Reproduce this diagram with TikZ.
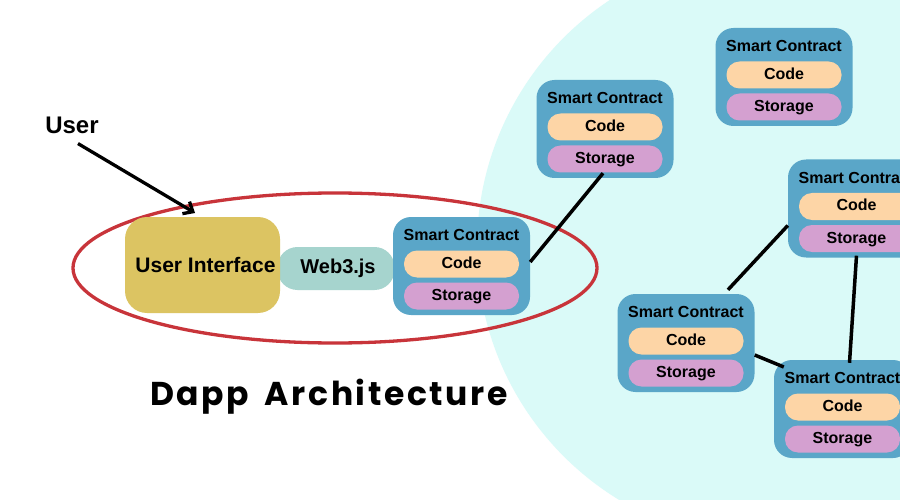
\documentclass[tikz,border=0pt]{standalone}
\usepackage{fontspec}
\setmainfont{Liberation Sans}
\newfontfamily\titlefont{Poppins}[LetterSpace=8]
\usetikzlibrary{calc,arrows.meta}
\definecolor{seacolor}{RGB}{218,250,248}
\definecolor{scblue}{RGB}{90,166,200}
\definecolor{codecolor}{RGB}{253,213,166}
\definecolor{storecolor}{RGB}{212,160,208}
\definecolor{uicolor}{RGB}{220,196,98}
\definecolor{webcolor}{RGB}{166,212,206}
\definecolor{ringcolor}{RGB}{200,52,58}
\newcommand{\fsize}[1]{\fontsize{#1}{#1}\selectfont}
\tikzset{
  scbox/.style={fill=scblue, rounded corners=18pt, minimum width=137pt, minimum height=98pt, inner sep=0pt},
  sctitle/.style={font=\bfseries\fsize{16}, inner sep=0pt},
  pill/.style={rounded corners=13pt, minimum width=115pt, minimum height=27pt, inner sep=0pt,
    text height=12pt, text depth=3pt, font=\bfseries\fsize{16}},
  codepill/.style={pill, fill=codecolor},
  storepill/.style={pill, fill=storecolor},
  link/.style={line width=3.5pt}
}
\newcommand{\smartContract}[2]
{   \node[scbox] (#1) at (#2) {};
    \node[sctitle] (#1t) at ($(#1)+(0,-31)$) {Smart Contract};
    \node[codepill] (#1c) at ($(#1)+(0,-2)$) {Code};
    \node[storepill] (#1s) at ($(#1)+(0,30)$) {Storage};
}

\begin{document}
\begin{tikzpicture}[x=1pt,y=-1pt]

 \useasboundingbox (0,0) rectangle (900,500);
 \clip (0,0) rectangle (900,500);
 \fill[white] (0,0) rectangle (900,500);
 \fill[seacolor] (773,247) circle (296);
   \draw[ringcolor, line width=3.3pt] (335,268) ellipse [x radius=262, y radius=75];

 \node[fill=webcolor, rounded corners=20pt, minimum width=117pt, minimum height=43pt, inner sep=0pt,
   font=\bfseries\fsize{20}] (web) at (336,268.5) {\hspace*{4pt}\raisebox{-1pt}{Web3.js}};
 \node[fill=uicolor, rounded corners=22pt, minimum width=155pt, minimum height=96pt, inner sep=0pt,
   font=\bfseries\fsize{21}] (ui) at (202.5,265) {\hspace*{6pt}\raisebox{-2.5pt}{User Interface}};

 \smartContract{sc0}{461.5,266}
 \smartContract{sc1}{605,129}
 \smartContract{sc2}{784,77}
 \smartContract{sc3}{856.5,208.5}
 \smartContract{sc4}{686,343}
 \smartContract{sc5}{842.5,409}

   \draw[link] ($(sc0.east)+(0,-4)$) -- ($(sc1.south)+(-2,-5)$);
   \draw[link] ($(sc3.west)+(0,17)$) -- ($(sc4.north)+(42,-4)$);
   \draw[link] ($(sc3.south)+(0,-2)$) -- ($(sc5.north)+(7,3)$);
   \draw[link] ($(sc4.east)+(0,12)$) -- ($(sc5.west)+(10,-42)$);

   \node[font=\bfseries\fsize{24}, inner sep=0pt] (user) at (72,125) {User};
   \coordinate (uiArrow) at (195,213);
   \draw[line width=3.3pt, -{Straight Barb[length=8pt,width=14pt]}] ($(user.south)+(6,10)$) -- (uiArrow);

   \node[font=\titlefont\bfseries\fsize{33}, inner sep=0pt] (title) at (329,397) {Dapp\hspace{6pt} Architecture};

 \end{tikzpicture}
\end{document}
